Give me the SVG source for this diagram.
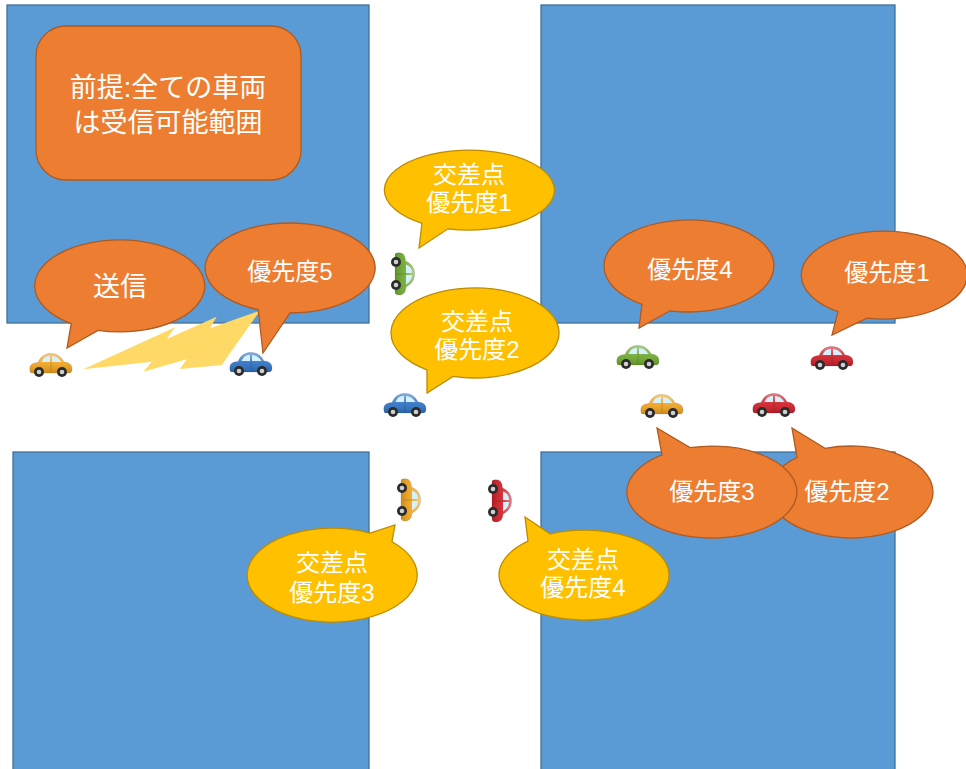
<svg xmlns="http://www.w3.org/2000/svg" width="966" height="769" viewBox="0 0 966 769">
  <style>
    .block { fill: #5B9BD5; stroke: #41719C; stroke-width: 1.3; }
    .orange { fill: #ED7D31; stroke: #AE5A21; stroke-width: 1.3; }
    .yellow { fill: #FFC000; stroke: #BC8C00; stroke-width: 1.3; }
    text { fill: #FFFFFF; font-family: "Liberation Sans", "Noto Sans CJK JP", sans-serif; text-anchor: middle; }
    .t24 { font-size: 24px; }
    .t27 { font-size: 27px; }
  </style>
  <defs>
    <linearGradient id="shine" x1="0" y1="0" x2="0" y2="1">
      <stop offset="0" stop-color="#FFFFFF" stop-opacity="0.45"/>
      <stop offset="0.5" stop-color="#FFFFFF" stop-opacity="0.08"/>
      <stop offset="1" stop-color="#000000" stop-opacity="0.15"/>
    </linearGradient>
    <!-- small side-view car; body colour comes from the use element's color -->
    <symbol id="car" viewBox="0 0 48 28">
      <path d="M4,21 C3,15 6,13 12,12.5 C15,6 19,3.5 25,3.5 C31,3.5 35,6.5 38,12 C44,12.5 46,15 46,19 C46,21.5 45,23 43,23 L6,23 C4.5,23 4,22 4,21 Z" fill="currentColor"/>
      <path d="M4,21 C3,15 6,13 12,12.5 C15,6 19,3.5 25,3.5 C31,3.5 35,6.5 38,12 C44,12.5 46,15 46,19 C46,21.5 45,23 43,23 L6,23 C4.5,23 4,22 4,21 Z" fill="url(#shine)" stroke="#000" stroke-opacity="0.18" stroke-width="0.6"/>
      <path d="M15.5,12 C17.5,7.5 20,6 24,6 L24,12 Z" fill="#D4F1FD"/>
      <path d="M26,6 C30,6 33,8 35.5,12 L26,12 Z" fill="#D4F1FD"/>
      <line x1="25" y1="12.5" x2="25" y2="21" stroke="#000" stroke-opacity="0.25" stroke-width="0.6"/>
      <circle cx="13" cy="22" r="5" fill="#2B2B2B"/>
      <circle cx="13" cy="22" r="2.3" fill="#D0D0D0"/>
      <circle cx="36" cy="22" r="5" fill="#2B2B2B"/>
      <circle cx="36" cy="22" r="2.3" fill="#D0D0D0"/>
    </symbol>
  </defs>

  <rect width="966" height="769" fill="#FFFFFF"/>

  <!-- city blocks around the crossing -->
  <g id="blocks">
    <rect class="block" x="7" y="5" width="362" height="318"/>
    <rect class="block" x="541" y="5" width="354" height="318"/>
    <rect class="block" x="13" y="452" width="356" height="330"/>
    <rect class="block" x="541" y="452" width="354" height="330"/>
  </g>

  <g id="premise">
    <rect class="orange" x="36" y="26" width="265" height="154" rx="30" ry="30"/>
    <text class="t27" x="168" y="97">前提:全ての車両<tspan x="168" dy="35">は受信可能範囲</tspan></text>
  </g>

  <!-- broadcast signal between the two cars on the left -->
  <g id="connectors">
    <polygon fill="#FFD966" points="83.3,369.3 175,327.3 166.7,339 216.7,316.7 210,328.3 260,310.7 221.7,365 180,369 186.7,359.3 143.3,371.7 151.7,361.7"/>
  </g>

  <g id="callout-send">
    <path class="orange" d="M71.2,323.7 A85,46 0 1 1 98,330.4 L67,348 Z"/>
    <text class="t27" x="120" y="296">送信</text>
  </g>

  <g id="callout-p5">
    <path class="orange" d="M258.2,309.7 A85,45 0 1 1 290,313 L263,353 Z"/>
    <text class="t24" x="290" y="280">優先度5</text>
  </g>

  <g id="callout-x1">
    <path class="yellow" d="M422,223.3 A85,40 0 1 1 448,228.8 L419,248 Z"/>
    <text class="t24" x="469" y="183">交差点<tspan x="469" dy="28">優先度1</tspan></text>
  </g>

  <g id="callout-x2">
    <path class="yellow" d="M427,369.9 A84,45 0 1 1 453,376.4 L427,393 Z"/>
    <text class="t24" x="477" y="330">交差点<tspan x="477" dy="28">優先度2</tspan></text>
  </g>

  <g id="callout-x3">
    <path class="yellow" d="M392,541.7 A85,47 0 1 1 370,533 L395,525 Z"/>
    <text class="t24" x="332" y="571">交差点<tspan x="332" dy="30">優先度3</tspan></text>
  </g>

  <g id="callout-x4">
    <path class="yellow" d="M550,533.8 A85,45 0 1 1 528,541.2 L525,517 Z"/>
    <text class="t24" x="583" y="568">交差点<tspan x="583" dy="28">優先度4</tspan></text>
  </g>

  <g id="callout-p4">
    <path class="orange" d="M642,304.3 A85,46 0 1 1 670,310.8 L639,328 Z"/>
    <text class="t24" x="690" y="278">優先度4</text>
  </g>

  <g id="callout-p1">
    <path class="orange" d="M838,311.6 A83,44 0 1 1 867,318.1 L832,335 Z"/>
    <text class="t24" x="887" y="281">優先度1</text>
  </g>

  <g id="callout-p2">
    <path class="orange" d="M825,448.4 A82,46 0 1 1 797,457.4 L792,428 Z"/>
    <text class="t24" x="847" y="500">優先度2</text>
  </g>

  <g id="callout-p3">
    <path class="orange" d="M690,447.6 A85,46 0 1 1 662,454.8 L657,428 Z"/>
    <text class="t24" x="712" y="500">優先度3</text>
  </g>

  <!-- vehicles -->
  <g id="car-sender"><use href="#car" x="26" y="350" width="48" height="28" color="#F0A21E"/></g>
  <g id="car-p5"><use href="#car" x="226" y="349" width="48" height="28" color="#2E72C4"/></g>
  <g id="car-x1"><use href="#car" x="-24" y="-14" width="48" height="28" color="#6EA82E" transform="translate(404,273) rotate(90)"/></g>
  <g id="car-x2"><use href="#car" x="380" y="390" width="48" height="28" color="#2E72C4"/></g>
  <g id="car-p4"><use href="#car" x="613" y="342" width="48" height="28" color="#6EA82E"/></g>
  <g id="car-p1"><use href="#car" x="807" y="343" width="48" height="28" color="#D01E28"/></g>
  <g id="car-p3"><use href="#car" x="637" y="391" width="48" height="28" color="#F0A21E"/></g>
  <g id="car-p2"><use href="#car" x="749" y="390" width="48" height="28" color="#D01E28"/></g>
  <g id="car-x3"><use href="#car" x="-24" y="-14" width="48" height="28" color="#F0A21E" transform="translate(410,499) rotate(90)"/></g>
  <g id="car-x4"><use href="#car" x="-24" y="-14" width="48" height="28" color="#D01E28" transform="translate(501,500) rotate(90)"/></g>
</svg>
